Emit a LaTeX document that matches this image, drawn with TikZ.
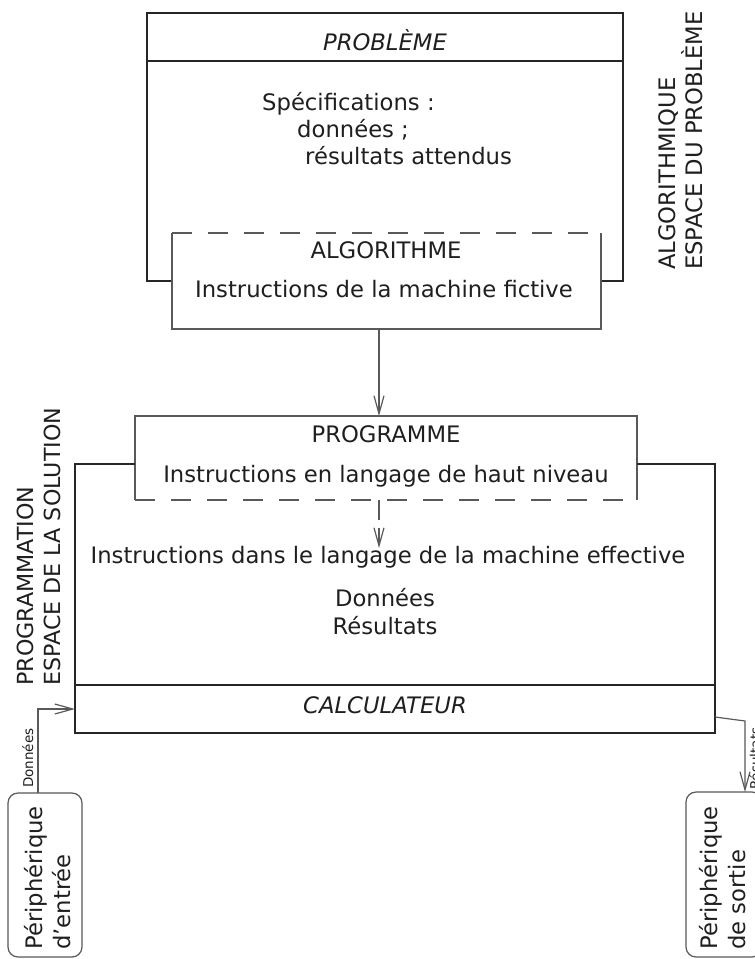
\documentclass[tikz,border=0pt]{standalone}
\usepackage{fontspec}
\setmainfont{DejaVu Sans}
\usetikzlibrary{arrows.meta}

\begin{document}
\begin{tikzpicture}[x=1pt,y=-1pt,
  frame/.style={line width=1.8pt, draw=black!85},
  boxline/.style={line width=1.2pt, draw=black!65},
  dashline/.style={boxline, dash pattern=on 20pt off 16pt},
  conn/.style={boxline, -{Straight Barb[length=18pt,width=10pt]}},
  area/.style={inner sep=0pt, outer sep=0pt, minimum width=#1},
  txt/.style={inner sep=0pt, anchor=base, text=black!88,
    font=\fontsize{22.7}{27}\selectfont},
  ltxt/.style={txt, anchor=base west},
  vtxt/.style={txt, rotate=90, anchor=base west},
  sidetxt/.style={vtxt, font=\fontsize{22.2}{27}\selectfont},
  smalltxt/.style={inner sep=0pt, rotate=90, anchor=base west, text=black!88,
    font=\fontsize{13.5}{16}\selectfont},
  periph/.style={boxline, rounded corners=10pt}
]
\path[use as bounding box] (0,0) rectangle (755,959);
\clip (0,0) rectangle (755,959);
\fill[white] (0,0) rectangle (755,959);

% ---- regions ----
\node[area=476pt, minimum height=268pt] (prob) at (385,147) {};
\node[area=476pt, minimum height=48pt, anchor=north] (probhead) at (prob.north) {};
\node[area=429pt, minimum height=96pt] (alg) at (386.5,281) {};
\node[area=502pt, minimum height=84pt] (prog) at (386,458) {};
\node[area=640pt, minimum height=269pt] (calc) at (395,598.5) {};
\node[area=640pt, minimum height=48pt, anchor=south] (calcfoot) at (calc.south) {};
\node[area=74pt, minimum height=164pt] (in) at (45,875) {};
\node[area=76pt, minimum height=165pt] (out) at (724,874.5) {};

% ---- problem space ----
\draw[frame] (alg.west) -- (prob.south west) -- (prob.north west)
  -- (prob.north east) -- (prob.south east) -- (alg.east);
\draw[frame] (probhead.south west) -- (probhead.south east);

% ---- algorithm box: dashed top ----
\draw[boxline] (alg.north west) -- (alg.south west) -- (alg.south east) -- (alg.north east);
\draw[dashline] (alg.north west) -- (alg.north east);

% ---- programme box: dashed bottom ----
\draw[boxline] (prog.south west) -- (prog.north west) -- (prog.north east) -- (prog.south east);
\draw[dashline] (prog.south west) -- (prog.south east);

% ---- computer ----
\draw[frame] (prog.west |- calc.north) -- (calc.north west) -- (calc.south west)
  -- (calc.south east) -- (calc.north east) -- (prog.east |- calc.north);
\draw[frame] (calcfoot.north west) -- (calcfoot.north east);

% ---- devices ----
\draw[periph] (in.south west) rectangle (in.north east);
\draw[periph] (out.south west) rectangle (out.north east);

% ---- connectors ----
\draw[conn] ([xshift=-7.5pt]alg.south) -- ([xshift=-7pt]prog.north);
\draw[conn, dash pattern=on 20pt off 8pt] ([xshift=-7pt]prog.south) -- ++(0,48);
\draw[conn] ([xshift=-7pt]in.north) |- (calcfoot.west);
\draw[conn] ([yshift=-8pt]calcfoot.east) -- ++(30,4) -- ([xshift=21pt]out.north);

% ---- texts ----
\node[txt] (tprob) at (385,50) {\itshape PROBLÈME};
\node[ltxt] (tspec) at (262,110) {Spécifications :};
\node[ltxt] (tdon) at (297,137) {données ;};
\node[ltxt] (tres) at (305,164) {résultats attendus};

\node[txt] (talg) at (386,258) {ALGORITHME};
\node[txt] (talgi) at (384,297) {Instructions de la machine fictive};

\node[txt] (tprog) at (386,442) {PROGRAMME};
\node[txt] (tprogi) at (386,482) {Instructions en langage de haut niveau};

\node[txt] (tmach) at (388,563) {Instructions dans le langage de la machine effective};
\node[txt] (tcdon) at (385,606) {Données};
\node[txt] (tcres) at (385,634) {Résultats};
\node[txt] (tcalc) at (385,713) {\itshape CALCULATEUR};

\node[vtxt] (lalg1) at (675,270) {ALGORITHMIQUE};
\node[vtxt] (lalg2) at (702,270) {ESPACE DU PROBLÈME};
\node[sidetxt] (lprg1) at (33,686) {PROGRAMMATION};
\node[sidetxt] (lprg2) at (60,686) {ESPACE DE LA SOLUTION};

\node[vtxt] (tin1) at (42,950) {Périphérique};
\node[vtxt] (tin2) at (70,950) {d'entrée};
\node[vtxt] (tout1) at (717,950) {Périphérique};
\node[vtxt] (tout2) at (745,950) {de sortie};

\node[smalltxt] (ldon) at (33,788) {Données};
\node[smalltxt] (lres) at (760,790) {Résultats};
\end{tikzpicture}
\end{document}
